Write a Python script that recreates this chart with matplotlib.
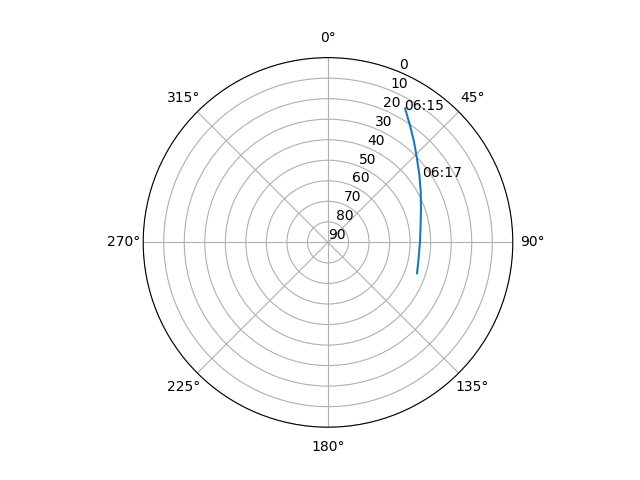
import matplotlib
matplotlib.use("Agg")
import matplotlib.pyplot as plt
import numpy as np

# satellite track: azimuth (deg) and elevation (deg)
azimuth = [29.9, 34.9, 40.5, 46.6, 53.6, 61.3, 69.9, 79.4, 89.6, 99.9, 109.1]
elevation = [14.7, 20.3, 25.5, 30.4, 34.7, 38.5, 41.8, 44.1, 45.2, 45.2, 44.1]

# time labels along the track
label_text = ["06:15", "06:17"]
label_az = [29.9, 55.0]
label_el = [15.5, 34.3]


def main():
    fig = plt.figure(figsize=(6.4, 4.8), dpi=100)
    ax = fig.add_subplot(111, projection="polar")
    ax.set_theta_zero_location("N")
    ax.set_theta_direction(-1)
    ax.set_yticks(range(0, 91, 10))
    ax.set_ylim(90, 0)

    ax.plot(np.deg2rad(azimuth), elevation)
    for txt, az, el in zip(label_text, label_az, label_el):
        ax.text(np.deg2rad(az), el, txt)

    fig.savefig("out.png")


if __name__ == "__main__":
    main()
